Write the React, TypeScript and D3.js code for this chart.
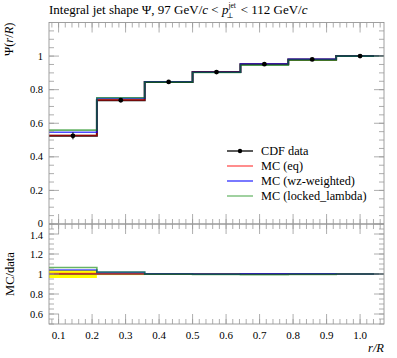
import React from "react";
import * as d3 from "d3";

// bin edges in r/R (r bins of 0.1 with R = 0.7)
const binEdges = [0.0714, 0.2143, 0.3571, 0.5, 0.6429, 0.7857, 0.9286, 1.0714];
const binCenters = [0.1429, 0.2857, 0.4286, 0.5714, 0.7143, 0.8571, 1.0];

const dataVals = [0.525, 0.737, 0.846, 0.905, 0.952, 0.98, 1.0];
const dataErr = [0.021, 0.008, 0.006, 0.004, 0.003, 0.002, 0.001];

const mcEq = [0.527, 0.739, 0.847, 0.905, 0.951, 0.979, 1.0];
const mcWz = [0.546, 0.749, 0.847, 0.904, 0.953, 0.981, 1.0];
const mcLocked = [0.559, 0.752, 0.845, 0.902, 0.946, 0.976, 1.0];

const mainTicks = [0, 0.2, 0.4, 0.6, 0.8, 1];
const ratioTicks = [0.6, 0.8, 1, 1.2, 1.4];
const xTicks = [0.1, 0.2, 0.3, 0.4, 0.5, 0.6, 0.7, 0.8, 0.9, 1.0];

const legendItems = [
  { label: "CDF data", color: "#000", marker: true },
  { label: "MC (eq)", color: "#ff5050", marker: false },
  { label: "MC (wz-weighted)", color: "#3030ff", marker: false },
  { label: "MC (locked_lambda)", color: "#6cb86c", marker: false },
];

const W = 397;
const H = 358;
const left = 49;
const right = 384;
const top = 22.5;
const split = 224;
const bottom = 324;

const font = "'Liberation Serif', 'DejaVu Serif', serif";
const tickColor = "#999";

function stepPath(x: d3.ScaleLinear<number, number>, y: d3.ScaleLinear<number, number>, vals: number[]) {
  let d = "";
  vals.forEach((v, i) => {
    const x0 = x(binEdges[i]);
    const x1 = x(binEdges[i + 1]);
    const yy = y(v);
    d += i === 0 ? `M${x0},${yy}` : `L${x0},${yy}`;
    d += `L${x1},${yy}`;
  });
  return d;
}

export default function App() {
  const x = d3.scaleLinear().domain([binEdges[0], binEdges[7]]).range([left, right]);
  const y = d3.scaleLinear().domain([0, 1.2]).range([split, top]);
  const yr = d3.scaleLinear().domain([0.5, 1.5]).range([bottom, split]);

  const xMinor = d3.range(0.08, 1.07, 0.02);
  const yMinor = d3.range(0, 1.2, 0.05);
  const yrMinor = d3.range(0.5, 1.5, 0.05);

  const ratio = (arr: number[]) => arr.map((v, i) => v / dataVals[i]);

  const mcSeries = [
    { vals: mcEq, color: "#ff0000", op: 0.55 },
    { vals: mcWz, color: "#0000ff", op: 0.7 },
    { vals: mcLocked, color: "#008000", op: 0.6 },
  ];

  const xTickMarks = (yy: number, dir: number) => (
    <g stroke={tickColor} strokeWidth={0.8}>
      {xMinor.map((t, i) => (
        <line key={"m" + i} x1={x(t)} x2={x(t)} y1={yy} y2={yy + dir * 5} />
      ))}
      {xTicks.map((t, i) => (
        <line key={"M" + i} x1={x(t)} x2={x(t)} y1={yy} y2={yy + dir * 10} />
      ))}
    </g>
  );

  const yTickMarks = (sc: d3.ScaleLinear<number, number>, minor: number[], major: number[]) => (
    <g stroke={tickColor} strokeWidth={0.8}>
      {minor.map((t, i) => (
        <g key={"m" + i}>
          <line x1={left} x2={left + 5} y1={sc(t)} y2={sc(t)} />
          <line x1={right} x2={right - 5} y1={sc(t)} y2={sc(t)} />
        </g>
      ))}
      {major.map((t, i) => (
        <g key={"M" + i}>
          <line x1={left} x2={left + 10} y1={sc(t)} y2={sc(t)} />
          <line x1={right} x2={right - 10} y1={sc(t)} y2={sc(t)} />
        </g>
      ))}
    </g>
  );

  return (
    <svg width={W} height={H} style={{ position: "absolute", left: 0, top: 0 }} fontFamily={font}>
      <rect width={W} height={H} fill="#fff" />

      {/* title */}
      <text x={left} y={14} fontSize={13}>
        Integral jet shape Ψ, 97 GeV/<tspan fontStyle="italic">c</tspan> &lt;{" "}
        <tspan fontStyle="italic">p</tspan>
        <tspan fontSize={7.5} dy={-6}>jet</tspan>
        <tspan fontSize={7.5} dx={-9.5} dy={9.8}>⊥</tspan>
        <tspan dx={4} dy={-3.8}> &lt; 112 GeV/</tspan>
        <tspan fontStyle="italic">c</tspan>
      </text>

      {/* ratio band */}
      {dataVals.map((v, i) => (
        <rect
          key={"band" + i}
          x={x(binEdges[i])}
          width={x(binEdges[i + 1]) - x(binEdges[i])}
          y={yr(1 + dataErr[i] / v)}
          height={yr(1 - dataErr[i] / v) - yr(1 + dataErr[i] / v)}
          fill="#ffff00"
        />
      ))}
      <path d={stepPath(x, yr, dataVals.map(() => 1))} fill="none" stroke="#555" strokeWidth={1.5} />

      {/* main histogram lines */}
      <path d={stepPath(x, y, dataVals)} fill="none" stroke="#111" strokeWidth={2} />
      {mcSeries.map((s, i) => (
        <g key={"mc" + i}>
          <path d={stepPath(x, y, s.vals)} fill="none" stroke={s.color} strokeOpacity={s.op} strokeWidth={1.6} />
          <path d={stepPath(x, yr, ratio(s.vals))} fill="none" stroke={s.color} strokeOpacity={s.op} strokeWidth={1.6} />
        </g>
      ))}

      {/* data points */}
      {dataVals.map((v, i) => (
        <g key={"pt" + i}>
          <line x1={x(binCenters[i])} x2={x(binCenters[i])} y1={y(v - dataErr[i])} y2={y(v + dataErr[i])} stroke="#000" strokeWidth={1} />
          <circle cx={x(binCenters[i])} cy={y(v)} r={2.4} fill="#000" />
        </g>
      ))}

      {/* frames */}
      <rect x={left} y={top} width={right - left} height={bottom - top} fill="none" stroke="#888" strokeWidth={0.8} />
      <line x1={left} x2={right} y1={split} y2={split} stroke="#666" strokeWidth={1} />

      {/* ticks */}
      {xTickMarks(top, 1)}
      {xTickMarks(split, -1)}
      {xTickMarks(split, 1)}
      {xTickMarks(bottom, -1)}
      {yTickMarks(y, yMinor, mainTicks)}
      {yTickMarks(yr, yrMinor, ratioTicks)}

      {/* tick labels */}
      <g fontSize={10.5} textAnchor="end">
        {mainTicks.map((t) => (
          <text key={"yl" + t} x={43} y={y(t) + (t === 0 ? 2.5 : 3.5)}>
            {d3.format("~g")(t)}
          </text>
        ))}
        {ratioTicks.map((t) => (
          <text key={"yr" + t} x={43} y={yr(t) + (t === 1.4 ? 4.5 : 3.5)}>
            {d3.format("~g")(t)}
          </text>
        ))}
      </g>
      <g fontSize={11} textAnchor="middle">
        {xTicks.map((t) => (
          <text key={"xl" + t} x={x(t)} y={339}>
            {d3.format(".1f")(t)}
          </text>
        ))}
      </g>

      {/* axis labels */}
      <text transform={`translate(13,${top}) rotate(-90)`} textAnchor="end" fontSize={12.5}>
        Ψ(<tspan fontStyle="italic">r</tspan>/<tspan fontStyle="italic">R</tspan>)
      </text>
      <text transform={`translate(14,${yr(1)}) rotate(-90)`} textAnchor="middle" fontSize={12.5}>
        MC/data
      </text>
      <text x={right} y={352} textAnchor="end" fontSize={12.5} fontStyle="italic">
        r/R
      </text>

      {/* legend */}
      {legendItems.map((it, i) => {
        const ly = 151 + i * 15;
        return (
          <g key={"lg" + i}>
            <line x1={227} x2={253} y1={ly} y2={ly} stroke={it.color} strokeWidth={1.3} />
            {it.marker && <circle cx={240} cy={ly} r={2.2} fill="#000" />}
            <text x={261} y={ly + 4} fontSize={12.3}>
              {it.label}
            </text>
          </g>
        );
      })}
    </svg>
  );
}
